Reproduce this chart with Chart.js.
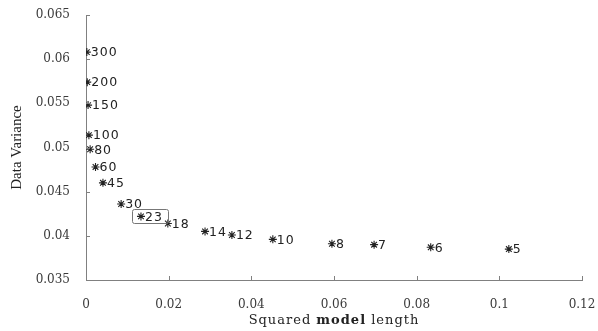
<!DOCTYPE html>
<html>
<head>
<meta charset="utf-8">
<script src="https://cdn.jsdelivr.net/npm/chart.js@4/dist/chart.umd.min.js"></script>
<style>
    html, body { margin: 0; padding: 0; background: #fff; }
    #wrap { width: 598px; height: 331px; }
</style>
</head>
<body>
<div id="wrap"><canvas id="chart"></canvas></div>
<script>
// model order shown next to each point
const modelOrders = [300, 200, 150, 100, 80, 60, 45, 30, 23, 18, 14, 12, 10, 8, 7, 6, 5];
// x: squared model length
const squaredLength = [0.0002, 0.0003, 0.0005, 0.0007, 0.0010, 0.0023, 0.0041, 0.0085, 0.0133, 0.0198, 0.0288, 0.0353, 0.0452, 0.0595, 0.0697, 0.0834, 0.1023];
// y: data variance
const dataVariance = [0.0608, 0.0574, 0.0548, 0.0514, 0.0498, 0.0478, 0.0460, 0.0436, 0.0422, 0.0414, 0.0405, 0.0401, 0.0396, 0.0391, 0.0390, 0.0387, 0.0385];
const highlightedOrder = 23;

const xTitle = ['Squared ', 'model', ' length'];
const yTitle = 'Data Variance';

const ink = '#222';
const tickInk = '#3a3a3a';
const axisColor = '#808080';

const points = squaredLength.map((x, i) => ({ x: x, y: dataVariance[i] }));

function fmt(v) {
    return String(Number(v.toFixed(3)));
}

// small tick marks pointing into the plot, plus the axis titles
const decorations = {
    id: 'decorations',
    afterDraw(chart) {
        const ctx = chart.ctx;
        const xs = chart.scales.x;
        const ys = chart.scales.y;
        const area = chart.chartArea;
        ctx.save();
        ctx.strokeStyle = axisColor;
        ctx.lineWidth = 1;
        xs.ticks.forEach(t => {
            const px = Math.round(xs.getPixelForValue(t.value)) + 0.5;
            ctx.beginPath();
            ctx.moveTo(px, area.bottom);
            ctx.lineTo(px, area.bottom - 4);
            ctx.stroke();
        });
        ys.ticks.forEach(t => {
            const py = Math.round(ys.getPixelForValue(t.value)) + 0.5;
            ctx.beginPath();
            ctx.moveTo(area.left, py);
            ctx.lineTo(area.left + 4, py);
            ctx.stroke();
        });

        // x title with bold middle word
        ctx.fillStyle = ink;
        ctx.textBaseline = 'middle';
        ctx.letterSpacing = '1px';
        const fonts = ['13px "DejaVu Serif"', 'bold 13px "DejaVu Serif"', '13px "DejaVu Serif"'];
        let total = 0;
        const widths = xTitle.map((s, i) => {
            ctx.font = fonts[i];
            const w = ctx.measureText(s).width;
            total += w;
            return w;
        });
        let cx = (area.left + area.right) / 2 - total / 2;
        xTitle.forEach((s, i) => {
            ctx.font = fonts[i];
            ctx.textAlign = 'left';
            ctx.fillText(s, cx, 321);
            cx += widths[i];
        });

        // y title
        ctx.letterSpacing = '0px';
        ctx.font = '15px "Liberation Serif"';
        ctx.translate(17, (area.top + area.bottom) / 2);
        ctx.rotate(-Math.PI / 2);
        ctx.textAlign = 'center';
        ctx.fillText(yTitle, 0, 0);
        ctx.restore();
    }
};

// order numbers next to the asterisks
const pointLabels = {
    id: 'pointLabels',
    afterDatasetsDraw(chart) {
        const ctx = chart.ctx;
        const meta = chart.getDatasetMeta(0);
        ctx.save();
        ctx.font = '12.5px "DejaVu Sans"';
        ctx.letterSpacing = '1px';
        ctx.fillStyle = ink;
        ctx.textAlign = 'left';
        ctx.textBaseline = 'middle';
        meta.data.forEach((el, i) => {
            ctx.fillText(String(modelOrders[i]), el.x + 4, el.y + 1);
            if (modelOrders[i] === highlightedOrder) {
                ctx.strokeStyle = '#777';
                ctx.lineWidth = 1;
                ctx.beginPath();
                ctx.roundRect(Math.round(el.x) - 8.5, Math.round(el.y) - 6.5, 36, 14, 2);
                ctx.stroke();
            }
        });
        ctx.restore();
    }
};

new Chart(document.getElementById('chart'), {
    type: 'scatter',
    data: {
        datasets: [{
            data: points,
            pointStyle: 'star',
            radius: 4,
            hoverRadius: 4,
            borderColor: ink,
            backgroundColor: ink,
            borderWidth: 1.1
        }]
    },
    options: {
        responsive: true,
        maintainAspectRatio: false,
        animation: false,
        layout: { padding: { top: 15, right: 16, left: 0, bottom: 0 } },
        plugins: {
            legend: { display: false },
            tooltip: { enabled: false }
        },
        scales: {
            x: {
                type: 'linear',
                min: 0,
                max: 0.12,
                afterFit(scale) {
                    scale.height = 51;
                    scale.paddingLeft = 0;
                    scale.paddingRight = 0;
                },
                grid: { display: false },
                border: { display: true, color: axisColor, width: 1 },
                ticks: {
                    stepSize: 0.02,
                    padding: 10,
                    color: tickInk,
                    font: { family: 'DejaVu Serif', size: 12 },
                    maxRotation: 0,
                    callback: v => fmt(v)
                }
            },
            y: {
                type: 'linear',
                min: 0.035,
                max: 0.065,
                afterFit(scale) {
                    scale.width = 86;
                    scale.paddingTop = 0;
                    scale.paddingBottom = 0;
                },
                grid: { display: false },
                border: { display: true, color: axisColor, width: 1 },
                ticks: {
                    stepSize: 0.005,
                    padding: 8,
                    color: tickInk,
                    font: { family: 'DejaVu Serif', size: 12 },
                    callback: v => fmt(v)
                }
            }
        }
    },
    plugins: [pointLabels, decorations]
});
</script>
</body>
</html>
